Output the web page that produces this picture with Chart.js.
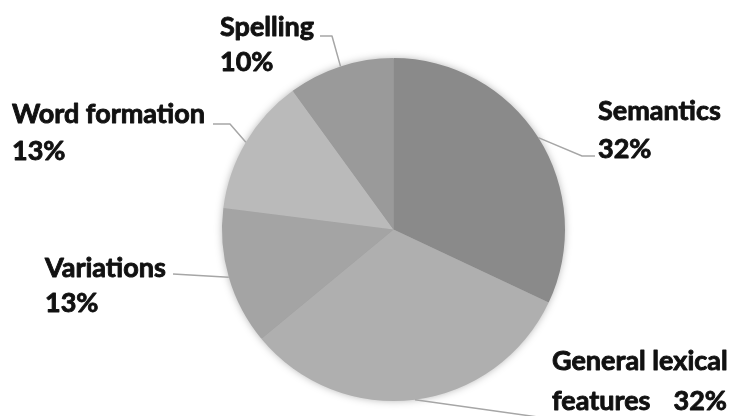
<!DOCTYPE html>
<html>
<head>
<meta charset="utf-8">
<script src="https://cdn.jsdelivr.net/npm/chart.js@4"></script>
<style>
  html, body { margin: 0; padding: 0; background: #ffffff; }
  #wrap { width: 733px; height: 416px; }
</style>
</head>
<body>
<div id="wrap"><canvas id="chart" width="733" height="416"></canvas></div>
<script>
// Share of items by category (percent)
const categories = ['Semantics', 'General lexical features', 'Variations', 'Word formation', 'Spelling'];
const shares = [32, 32, 13, 13, 10];

const sliceColors = ['#8a8a8a', '#afafaf', '#a4a4a4', '#bababa', '#9a9a9a'];

// Label placement: text origin, elbow of the leader line and its end next to the text
const labelLayout = [
  { x: 598, y1: 120, y2: 158, elbow: [582, 156], end: [595, 156] },
  { x: 552, y1: 370, y2: 410, right: 727, split: 2, elbow: null, end: [545, 418] },
  { x: 45,  y1: 277, y2: 312, elbow: null, end: [173, 274] },
  { x: 12,  y1: 123, y2: 160, elbow: [230, 124], end: [213, 124] },
  { x: 220, y1: 36,  y2: 71,  elbow: [332, 36], end: [320, 36] }
];

const FONT = 'bold 27px Lato, "Liberation Sans", sans-serif';

// Soft shadow under the pie
const pieShadow = {
  id: 'pieShadow',
  beforeDatasetsDraw(chart) {
    const arc = chart.getDatasetMeta(0).data[0];
    if (!arc) return;
    const ctx = chart.ctx;
    ctx.save();
    ctx.beginPath();
    ctx.arc(arc.x, arc.y, arc.outerRadius - 1, 0, Math.PI * 2);
    ctx.shadowColor = 'rgba(0,0,0,0.35)';
    ctx.shadowBlur = 8;
    ctx.fillStyle = '#a0a0a0';
    ctx.fill();
    ctx.restore();
  }
};

// Draws one line of label text, slightly heavier than the plain bold face
function heavyText(ctx, text, x, y) {
  ctx.fillText(text, x, y);
  ctx.strokeText(text, x, y);
}

// Category + percentage labels with leader lines from each slice's middle
const sliceLabels = {
  id: 'sliceLabels',
  afterDatasetsDraw(chart) {
    const ctx = chart.ctx;
    const meta = chart.getDatasetMeta(0);
    ctx.save();
    meta.data.forEach((arc, i) => {
      const L = labelLayout[i];
      const mid = (arc.startAngle + arc.endAngle) / 2;
      const sx = arc.x + Math.cos(mid) * arc.outerRadius;
      const sy = arc.y + Math.sin(mid) * arc.outerRadius;

      ctx.beginPath();
      ctx.strokeStyle = '#a6a6a6';
      ctx.lineWidth = 1.5;
      ctx.moveTo(sx, sy);
      if (L.elbow) ctx.lineTo(L.elbow[0], L.elbow[1]);
      ctx.lineTo(L.end[0], L.end[1]);
      ctx.stroke();

      ctx.fillStyle = '#111111';
      ctx.strokeStyle = '#111111';
      ctx.lineWidth = 0.9;
      ctx.lineJoin = 'round';
      ctx.font = FONT;
      ctx.textBaseline = 'alphabetic';
      const value = shares[i] + '%';
      if (L.split) {
        const words = categories[i].split(' ');
        ctx.textAlign = 'left';
        heavyText(ctx, words.slice(0, L.split).join(' '), L.x, L.y1);
        heavyText(ctx, words.slice(L.split).join(' '), L.x, L.y2);
        ctx.textAlign = 'right';
        heavyText(ctx, value, L.right, L.y2);
      } else {
        ctx.textAlign = 'left';
        heavyText(ctx, categories[i], L.x, L.y1);
        heavyText(ctx, value, L.x, L.y2);
      }
    });
    ctx.restore();
  }
};

new Chart(document.getElementById('chart'), {
  type: 'pie',
  data: {
    labels: categories,
    datasets: [{
      data: shares,
      backgroundColor: sliceColors,
      borderWidth: 0
    }]
  },
  options: {
    responsive: false,
    animation: false,
    layout: { padding: { top: 58, bottom: 15, left: 222, right: 168 } },
    plugins: {
      legend: { display: false },
      tooltip: { enabled: false }
    }
  },
  plugins: [pieShadow, sliceLabels]
});
</script>
</body>
</html>
